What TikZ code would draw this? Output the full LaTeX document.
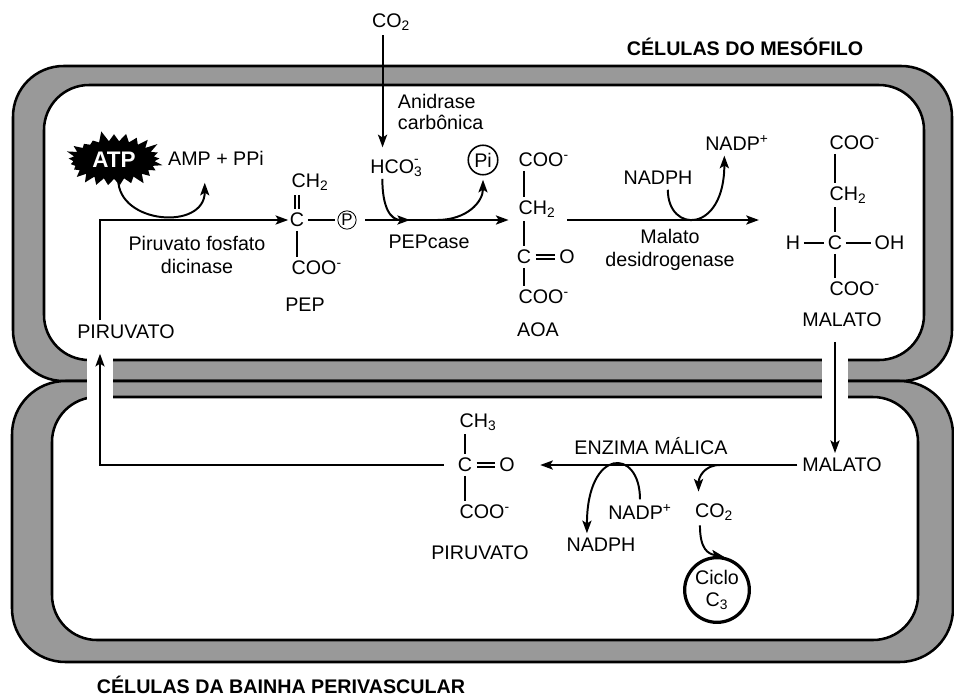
\documentclass[tikz,border=0pt]{standalone}
\usepackage{fontspec}
\setmainfont{Liberation Sans}
\usetikzlibrary{arrows.meta,shapes.symbols}

\begin{document}
\begin{tikzpicture}[x=0.025cm,y=-0.025cm,
  font=\fontsize{14}{16}\selectfont,
  wall/.style={fill=black!40,draw=black,line width=1.8pt},
  cell/.style={fill=white,draw=black,line width=1.8pt},
  flow/.style={line width=1.4pt,-{Stealth[length=9pt,width=6.5pt,inset=2pt]}},
  bond/.style={line width=1.7pt,shorten <=1.5pt,shorten >=1.5pt},
  dbond/.style={line width=1.2pt,double,double distance=1.8pt,shorten <=2pt,shorten >=2pt},
  chem/.style={inner sep=1pt},
  title/.style={font=\fontsize{14}{16}\selectfont\bfseries}]
\useasboundingbox (0,0) rectangle (954,699);

\filldraw[wall,rounded corners=36pt] (13,66) rectangle (952,381);
\filldraw[wall,rounded corners=38pt] (12,381) rectangle (953,662);
\filldraw[cell,rounded corners=32pt] (44,85) rectangle (924,360);
\filldraw[cell,rounded corners=32pt] (52,397) rectangle (918,640);
\fill[white] (87,357) rectangle (113,400);
\fill[white] (822,357) rectangle (848,400);

\node[title] (meso) at (745,47) {CÉLULAS DO MESÓFILO};
\node[title] (bainha) at (281,685) {CÉLULAS DA BAINHA PERIVASCULAR};

\node (co2a) at (391,22) {CO\textsubscript{2}};
\node[align=left,anchor=west] (anid) at (393,112) {Anidrase\\[-1pt]carbônica};
\node[chem] (hco3) at (395,168) {HCO\rlap{\textsubscript{3}}\raisebox{2.5pt}{\textsuperscript{-}}};
\node[circle,draw,line width=1.1pt,inner sep=0pt,minimum size=21pt] (pi) at (483,160) {Pi};
\node[starburst,fill=black,text=white,font=\fontsize{16}{18}\selectfont\bfseries,
  inner xsep=5pt,inner ysep=4pt,starburst points=25,
  starburst point height=8pt,random starburst=5] (atp) at (114,160) {ATP};
\node (amp) at (216,158) {AMP + PPi};
\node (pirtop) at (126,332) {PIRUVATO};
\node[align=center] (ppdk) at (197,255) {Piruvato fosfato\\dicinase};

\node[chem] (pepc) at (297,220) {C};
\node[chem,anchor=west] (pepch2) at (290,182) {CH\textsubscript{2}};
\node[chem,anchor=west] (pepcoo) at (290,268) {COO\textsuperscript{-}};
\node[circle,draw,line width=0.6pt,inner sep=0pt,minimum size=13pt,font=\fontsize{12}{14}\selectfont] (pepp) at (347,220) {P};
\node (pep) at (305,305) {PEP};
\node (pepcase) at (429,242) {PEPcase};

\node[chem,anchor=west] (aoacoo) at (517,160) {COO\textsuperscript{-}};
\node[chem,anchor=west] (aoach2) at (517,209) {CH\textsubscript{2}};
\node[chem] (aoac) at (524,257) {C};
\node[chem] (aoao) at (567,257) {O};
\node[chem,anchor=west] (aoacoob) at (517,297) {COO\textsuperscript{-}};
\node (aoa) at (538,330) {AOA};

\node (nadph) at (658,178) {NADPH};
\node (nadp) at (737,143) {NADP\textsuperscript{+}};
\node[align=center] (mdh) at (670,250) {Malato\\desidrogenase};

\node[chem,anchor=west] (malcoo) at (828,143) {COO\textsuperscript{-}};
\node[chem,anchor=west] (malch2) at (828,195) {CH\textsubscript{2}};
\node[chem] (malc) at (835,243) {C};
\node[chem] (malh) at (793,243) {H};
\node[chem,anchor=west] (maloh) at (873,243) {OH};
\node[chem,anchor=west] (malcoob) at (828,289) {COO\textsuperscript{-}};
\node (malt) at (842,320) {MALATO};

\node (malb) at (842,465) {MALATO};
\node (enz) at (651,446) {ENZIMA MÁLICA};
\node (nadpb) at (640,512) {NADP\textsuperscript{+}};
\node (nadphb) at (601,545) {NADPH};
\node (co2b) at (714,512) {CO\textsubscript{2}};
\node[circle,draw,line width=2.3pt,inner sep=0pt,minimum size=46pt,align=center] (ciclo) at (717,590) {Ciclo\\C\textsubscript{3}};

\node[chem,anchor=west] (pirch3) at (458,422) {CH\textsubscript{3}};
\node[chem] (pirc) at (465,465) {C};
\node[chem] (piro) at (507,465) {O};
\node[chem,anchor=west] (pircoo) at (458,512) {COO\textsuperscript{-}};
\node (pirbot) at (480,553) {PIRUVATO};

\coordinate (topleft) at (100,220);
\coordinate (botleft) at (100,465);
\coordinate (j1) at (410,220);
\coordinate (j2) at (437,220);
\coordinate (forkb) at (720,465);
\coordinate (co2in) at ([xshift=-6pt]co2a.south);

\draw[flow,shorten >=7pt] (co2in) -- (co2in |- hco3.north);
\draw[flow] (pirtop.north -| topleft) -- (topleft) -- (pepc.west);
\draw[flow] ([xshift=3pt]atp.south) .. controls +(0,45) and +(0,48) .. ([shift={(-8pt,-9pt)}]amp.south);
\draw[bond] (pepc) -- (pepp);
\draw[flow,shorten <=6pt,shorten >=6pt] (pepp) -- (pepp -| aoach2.west);
\draw[flow] ([xshift=-9pt]hco3.south) .. controls +(0,28) and +(-20,0) .. (j1);
\draw[flow] (j2) .. controls +(30,0) and +(0,22) .. ([yshift=-3pt]pi.south);
\draw[flow,shorten <=7pt,shorten >=18pt] (aoach2.east |- pepp) -- (malh.west |- pepp);
\draw[flow] ([xshift=7pt]nadph.south) .. controls +(0,44) and +(0,78) .. ([xshift=-9pt]nadp.south);
\draw[flow,shorten <=7pt] (malt.south -| malc) -- (malb.north -| malc);
\draw[flow,shorten >=17pt] (malb) -- (piro);
\draw[flow] (nadpb.north) .. controls +(0,-52) and +(0,-86) .. ([xshift=-10pt]nadphb.north);
\draw[flow] (forkb) .. controls +(-16,0) and +(0,-14) .. ([shift={(-11pt,5pt)}]co2b.north);
\draw[flow] ([xshift=-10pt]co2b.south) .. controls +(0,24) and +(-16,-3) .. (ciclo.78);
\draw[flow,shorten <=9pt,shorten >=7pt] (pirc) -- (botleft) -- (pirtop.south -| botleft);

\draw[dbond] (pepch2.south -| pepc) -- (pepc.north);
\draw[bond] (pepc.south) -- (pepc.south |- pepcoo.north);
\draw[bond] (aoacoo.south -| aoac) -- (aoach2.north -| aoac);
\draw[bond] (aoach2.south -| aoac) -- (aoac.north);
\draw[dbond] (aoac) -- (aoao);
\draw[bond] (aoac.south) -- (aoac.south |- aoacoob.north);
\draw[bond] (malcoo.south -| malc) -- (malch2.north -| malc);
\draw[bond] (malch2.south -| malc) -- (malc.north);
\draw[bond] (malh) -- (malc);
\draw[bond] (malc) -- (maloh);
\draw[bond] (malc.south) -- (malc.south |- malcoob.north);
\draw[bond] (pirch3.south -| pirc) -- (pirc.north);
\draw[dbond] (pirc) -- (piro);
\draw[bond] (pirc.south) -- (pirc.south |- pircoo.north);
\end{tikzpicture}
\end{document}
